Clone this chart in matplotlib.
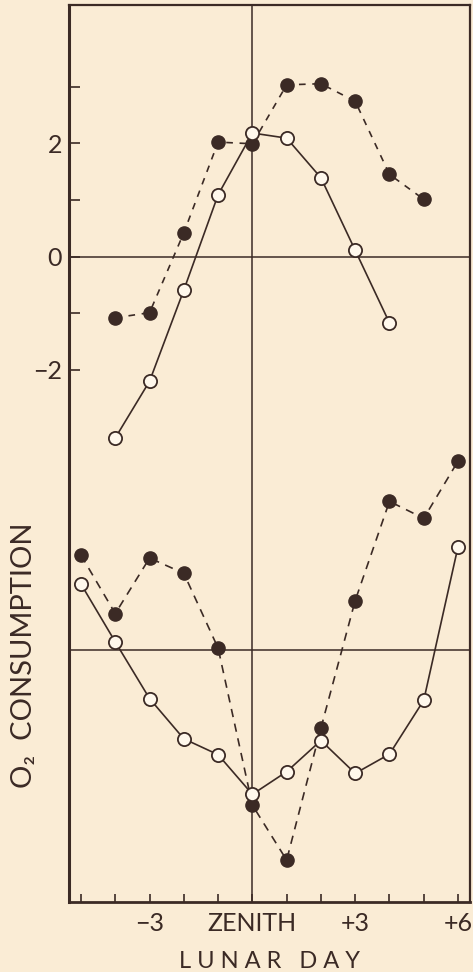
import matplotlib
matplotlib.use("Agg")
import matplotlib.pyplot as plt

# ---- data ----
hours_upper_filled = [-4, -3, -2, -1, 0, 1, 2, 3, 4, 5]
upper_filled = [-1.08, -0.99, 0.42, 2.02, 1.99, 3.03, 3.05, 2.74, 1.45, 1.01]

hours_upper_open = [-4, -3, -2, -1, 0, 1, 2, 3, 4]
upper_open = [-3.2, -2.2, -0.59, 1.09, 2.18, 2.09, 1.39, 0.11, -1.17]

hours_lower = [-5, -4, -3, -2, -1, 0, 1, 2, 3, 4, 5, 6]
lower_filled = [-5.27, -6.30, -5.32, -5.59, -6.91, -9.68, -10.65, -8.32, -6.07, -4.32, -4.62, -3.61]
lower_open = [-5.78, -6.80, -7.80, -8.51, -8.79, -9.49, -9.09, -8.54, -9.12, -8.78, -7.83, -5.12]

x_ticks = [-5, -4, -3, -2, -1, 0, 1, 2, 3, 4, 5, 6]
x_tick_labels = ["", "", "\u22123", "", "", "ZENITH", "", "", "+3", "", "", "+6"]
y_ticks = [3, 2, 1, 0, -1, -2]
y_tick_labels = ["", "2", "", "0", "", "\u22122"]
lower_baseline = -6.95

# ---- style ----
BG = "#faecd5"
INK = "#3b2a25"
OPEN_FILL = "#fff8ec"
FONT = ["Lato", "DejaVu Sans"]

plt.rcParams["font.family"] = FONT

fig = plt.figure(figsize=(4.73, 9.72), dpi=100, facecolor=BG)
ax = fig.add_axes([0.1459, 0.072, 0.8478, 0.9229])
ax.set_facecolor(BG)

ax.set_xlim(-5.35, 6.35)
ax.set_ylim(-11.39, 4.44)

# reference lines
ax.axvline(0, color=INK, lw=1.1, zorder=1)
ax.axhline(0, color=INK, lw=1.1, zorder=1)
ax.axhline(lower_baseline, color=INK, lw=1.1, zorder=1)

ms = 9.5
# upper pair
ax.plot(hours_upper_filled, upper_filled, color=INK, lw=1.2, ls=(0, (4, 4)),
        marker="o", ms=ms, mfc=INK, mec=INK, zorder=3)
ax.plot(hours_upper_open, upper_open, color=INK, lw=1.2, ls="-",
        marker="o", ms=ms, mfc=OPEN_FILL, mec=INK, mew=1.3, zorder=4)
# lower pair
ax.plot(hours_lower, lower_filled, color=INK, lw=1.2, ls=(0, (5, 4)),
        marker="o", ms=ms, mfc=INK, mec=INK, zorder=3)
ax.plot(hours_lower, lower_open, color=INK, lw=1.2, ls="-",
        marker="o", ms=ms, mfc=OPEN_FILL, mec=INK, mew=1.3, zorder=4)

# spines
for side, w in [("left", 2.2), ("bottom", 2.0), ("top", 1.6), ("right", 1.6)]:
    ax.spines[side].set_color(INK)
    ax.spines[side].set_linewidth(w)

ax.set_xticks(x_ticks)
ax.set_xticklabels(x_tick_labels)
ax.set_yticks(y_ticks)
ax.set_yticklabels(y_tick_labels)
ax.tick_params(axis="x", direction="in", length=6, width=1.2, color=INK,
               labelcolor=INK, labelsize=18, pad=7)
ax.tick_params(axis="y", direction="in", length=8, width=1.2, color=INK,
               labelcolor=INK, labelsize=18, pad=5)

ax.set_xlabel("L U N A R   D A Y", fontsize=17, color=INK)
ax.xaxis.set_label_coords(0.499, -0.0546)
ax.set_ylabel("O\u2082  CONSUMPTION", fontsize=21, color=INK)
ax.yaxis.label.set_va("center")
ax.yaxis.set_label_coords(-0.112, 0.275)

fig.savefig("out.png", dpi=100, facecolor=BG)
